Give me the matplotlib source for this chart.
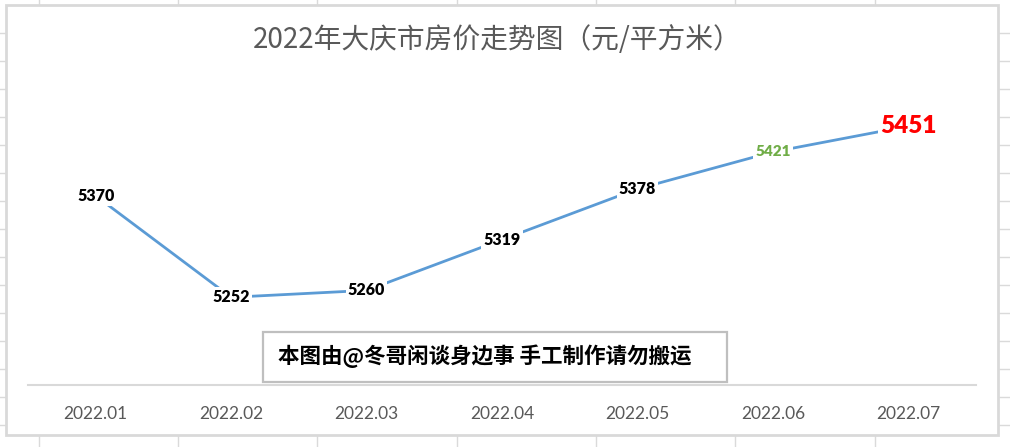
import matplotlib.pyplot as plt
from matplotlib.patches import Rectangle

plt.rcParams['font.family'] = ['Lato', 'Noto Sans CJK SC', 'DejaVu Sans']

# Data
months = ['2022.01', '2022.02', '2022.03', '2022.04', '2022.05', '2022.06', '2022.07']
prices = [5370, 5252, 5260, 5319, 5378, 5421, 5451]

title = '2022年大庆市房价走势图（元/平方米）'
note = '本图由@冬哥闲谈身边事 手工制作请勿搬运'

W, H = 1010, 447
fig = plt.figure(figsize=(W / 100, H / 100), dpi=100)

# background layer in pixel units: spreadsheet cells + chart frame
bg = fig.add_axes([0, 0, 1, 1])
bg.set_xlim(0, W)
bg.set_ylim(H, 0)
bg.axis('off')
cell = '#dadada'
for k in range(15):
    bg.axhline(33 + 28 * k, color=cell, lw=1, zorder=0)
for k in range(7):
    bg.axvline(38.7 + 139.3 * k, color=cell, lw=1, zorder=0)
bg.add_patch(Rectangle((6, 5), 992, 430, facecolor='white', edgecolor='#d9d9d9', lw=2, zorder=1))
bg.add_patch(Rectangle((263, 332), 464, 50, facecolor='white', edgecolor='#bfbfbf', lw=1.6, zorder=2))
bg.text(278, 356, note, fontsize=15.5, fontweight='heavy', color='black',
        family=['Noto Sans CJK SC'], ha='left', va='center', zorder=3)
bg.text(497, 40, title, fontsize=20, color='#595959',
        family=['Noto Sans CJK SC'], ha='center', va='center', zorder=3)

# main plot
ax = fig.add_axes([28 / W, 62 / H, 948 / W, 301 / H])
ax.patch.set_alpha(0)
x = list(range(len(months)))
ax.plot(x, prices, color='#5B9BD5', lw=2.0, solid_capstyle='round', zorder=2)
ax.set_xlim(-0.5, len(months) - 0.5)
ax.set_ylim(5150, 5500)

for i, v in enumerate(prices):
    color, size = 'black', 11.5
    if i == len(prices) - 1:
        color, size = '#FF0000', 17.5
    elif i == len(prices) - 2:
        color, size = '#70AD47', 11
    ax.text(i, v, str(v), color=color, fontsize=size, fontweight='heavy',
            ha='center', va='center', zorder=3,
            bbox=dict(facecolor='white', edgecolor='none', pad=1.5))

ax.set_xticks(x)
ax.set_xticklabels(months, fontsize=12.5, color='#595959')
ax.tick_params(axis='x', length=0, pad=15)
ax.set_yticks([])
for s in ['top', 'left', 'right']:
    ax.spines[s].set_visible(False)
ax.spines['bottom'].set_color('#d9d9d9')
ax.spines['bottom'].set_linewidth(1.5)

fig.savefig('out.png', dpi=100)
